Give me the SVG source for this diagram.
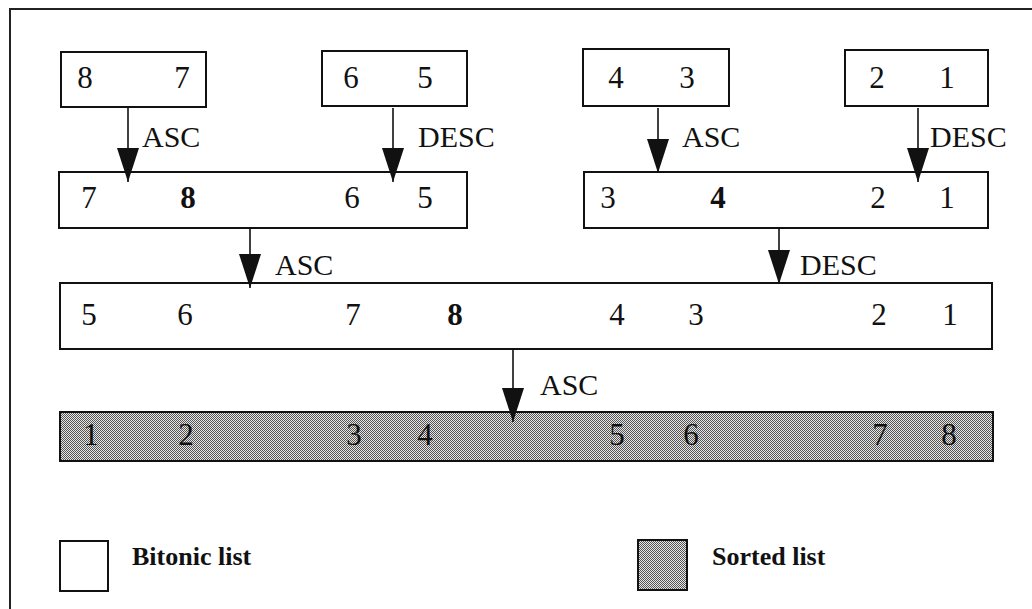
<svg xmlns="http://www.w3.org/2000/svg" width="1032" height="609" viewBox="0 0 1032 609">
  <style>
    .box { fill: #ffffff; stroke: #111; stroke-width: 2; }
    .sorted { fill: url(#dots); stroke: #111; stroke-width: 2; }
    .num { font-family: "Liberation Serif", "Times New Roman", serif; font-size: 31px; fill: #111; text-anchor: middle; }
    .max { font-weight: bold; }
    .lbl { font-family: "Liberation Serif", "Times New Roman", serif; font-size: 30px; fill: #111; }
    .legend { font-family: "Liberation Serif", "Times New Roman", serif; font-size: 26px; font-weight: bold; fill: #111; }
    .wire { stroke: #111; stroke-width: 1.6; fill: none; marker-end: url(#head); }
    .frame { stroke: #222; stroke-width: 2; fill: none; }
  </style>
  <defs>
    <pattern id="dots" width="2" height="2" patternUnits="userSpaceOnUse">
      <rect width="2" height="2" fill="#e6e6e6"/>
      <rect x="0" y="0" width="1" height="1" fill="#555"/>
      <rect x="1" y="1" width="1" height="1" fill="#555"/>
    </pattern>
    <marker id="head" viewBox="0 0 34 22" refX="34" refY="11" markerWidth="34" markerHeight="22" markerUnits="userSpaceOnUse" orient="auto">
      <path d="M0,0 L34,11 L0,22 z" fill="#111"/>
    </marker>
  </defs>

  <rect width="1032" height="609" fill="#ffffff"/>
  <!-- outer frame: top and left edges -->
  <path class="frame" d="M10,609 V9 H1032"/>

  <!-- level 1: pairs -->
  <g id="pair-87">
    <rect class="box" x="61" y="52" width="145" height="55"/>
    <text class="num" x="85" y="88">8</text>
    <text class="num" x="182" y="88">7</text>
  </g>
  <g id="pair-65">
    <rect class="box" x="322" y="51" width="145" height="55"/>
    <text class="num" x="351" y="88">6</text>
    <text class="num" x="425" y="88">5</text>
  </g>
  <g id="pair-43">
    <rect class="box" x="583" y="49" width="146" height="57"/>
    <text class="num" x="616" y="88">4</text>
    <text class="num" x="687" y="88">3</text>
  </g>
  <g id="pair-21">
    <rect class="box" x="845" y="50" width="143" height="56"/>
    <text class="num" x="877" y="88">2</text>
    <text class="num" x="947" y="88">1</text>
  </g>

  <!-- level 2: merged quads -->
  <g id="quad-left">
    <rect class="box" x="59" y="172" width="408" height="56"/>
    <text class="num" x="89" y="208">7</text>
    <text class="num max" x="188" y="208">8</text>
    <text class="num" x="352" y="208">6</text>
    <text class="num" x="425" y="208">5</text>
  </g>
  <g id="quad-right">
    <rect class="box" x="584" y="172" width="404" height="56"/>
    <text class="num" x="608" y="208">3</text>
    <text class="num max" x="718" y="208">4</text>
    <text class="num" x="878" y="208">2</text>
    <text class="num" x="947" y="208">1</text>
  </g>

  <!-- level 3: full bitonic list -->
  <g id="bitonic">
    <rect class="box" x="60" y="283" width="932" height="66"/>
    <text class="num" x="89" y="325">5</text>
    <text class="num" x="185" y="325">6</text>
    <text class="num" x="353" y="325">7</text>
    <text class="num max" x="455" y="325">8</text>
    <text class="num" x="617" y="325">4</text>
    <text class="num" x="696" y="325">3</text>
    <text class="num" x="879" y="325">2</text>
    <text class="num" x="950" y="325">1</text>
  </g>

  <!-- level 4: sorted list -->
  <g id="sorted">
    <rect class="sorted" x="60" y="412" width="933" height="49"/>
    <text class="num" x="91" y="445">1</text>
    <text class="num" x="186" y="445">2</text>
    <text class="num" x="354" y="445">3</text>
    <text class="num" x="425" y="445">4</text>
    <text class="num" x="617" y="445">5</text>
    <text class="num" x="691" y="445">6</text>
    <text class="num" x="880" y="445">7</text>
    <text class="num" x="949" y="445">8</text>
  </g>

  <!-- merge steps -->
  <g id="connectors">
    <line class="wire" x1="128" y1="108" x2="128" y2="182"/>
    <line class="wire" x1="393" y1="108" x2="393" y2="182"/>
    <line class="wire" x1="658" y1="108" x2="658" y2="173"/>
    <line class="wire" x1="918" y1="108" x2="918" y2="182"/>
    <line class="wire" x1="250" y1="228" x2="250" y2="288"/>
    <line class="wire" x1="779" y1="228" x2="779" y2="284"/>
    <line class="wire" x1="513" y1="349" x2="513" y2="422"/>
    <text class="lbl" x="142" y="147">ASC</text>
    <text class="lbl" x="418" y="147">DESC</text>
    <text class="lbl" x="682" y="147">ASC</text>
    <text class="lbl" x="930" y="147">DESC</text>
    <text class="lbl" x="275" y="275">ASC</text>
    <text class="lbl" x="800" y="275">DESC</text>
    <text class="lbl" x="540" y="395">ASC</text>
  </g>

  <!-- legend -->
  <g id="legend-bitonic">
    <rect class="box" x="60" y="541" width="48" height="50"/>
    <text class="legend" x="132" y="565">Bitonic list</text>
  </g>
  <g id="legend-sorted">
    <rect class="sorted" x="638" y="540" width="49" height="50"/>
    <text class="legend" x="712" y="565">Sorted list</text>
  </g>
</svg>
